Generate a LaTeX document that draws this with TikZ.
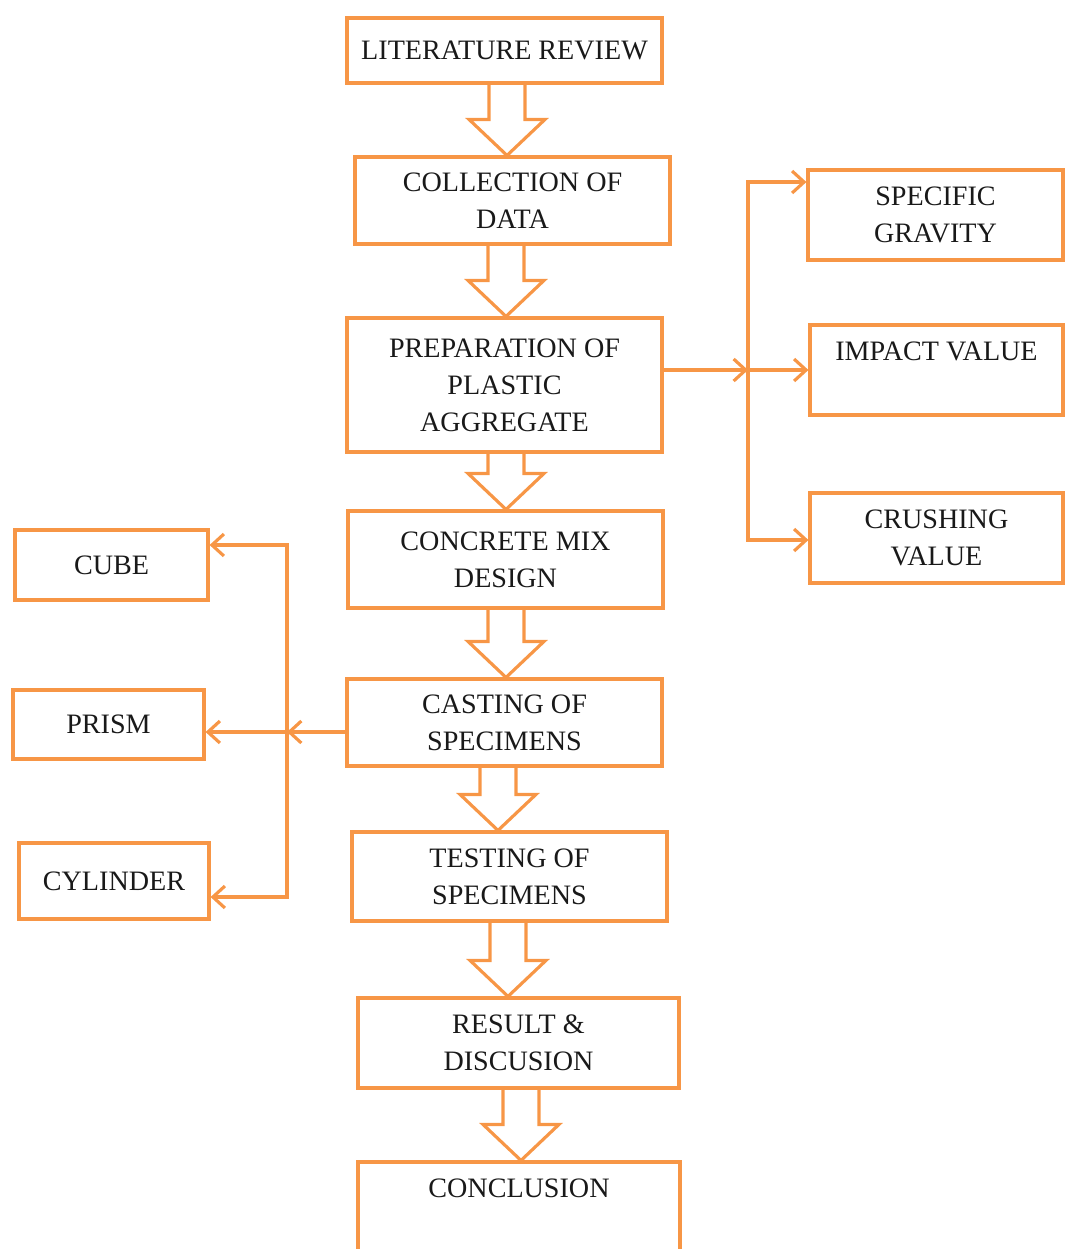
\documentclass[tikz,border=0pt]{standalone}
\usepackage{fontspec}
\setmainfont{Liberation Serif}
\usetikzlibrary{arrows.meta,calc}
\definecolor{boxorange}{RGB}{247,150,70}
\tikzset{
  box/.style={draw=boxorange, line width=0.9pt, rectangle, align=center, inner sep=1pt,
    text=black!90, font=\fontsize{8}{10.5}\selectfont},
  conn/.style={draw=boxorange, line width=0.9pt, -{Straight Barb[length=1.2mm,width=2.2mm]}},
  blockarr/.style={draw=boxorange, line width=0.9pt, line join=miter}
}
\begin{document}
\begin{tikzpicture}
\useasboundingbox (0,0) rectangle (10.66,-12.49);

% Main column
\node[box, minimum width=3.15cm, minimum height=0.65cm] (lit) at (5.045,-0.505) {LITERATURE REVIEW};
\node[box, minimum width=3.15cm, minimum height=0.87cm] (coll) at (5.125,-2.005) {COLLECTION OF\\DATA};
\node[box, minimum width=3.15cm, minimum height=1.34cm] (prep) at (5.045,-3.85) {PREPARATION OF\\PLASTIC\\AGGREGATE};
\node[box, minimum width=3.15cm, minimum height=0.97cm] (mix) at (5.055,-5.595) {CONCRETE MIX\\DESIGN};
\node[box, minimum width=3.15cm, minimum height=0.87cm] (cast) at (5.045,-7.225) {CASTING OF\\SPECIMENS};
\node[box, minimum width=3.15cm, minimum height=0.89cm] (test) at (5.095,-8.765) {TESTING OF\\SPECIMENS};
\node[box, minimum width=3.21cm, minimum height=0.90cm] (res) at (5.185,-10.43) {RESULT \&\\DISCUSION};
\node[box, minimum width=3.22cm, minimum height=0.90cm] (conc) at (5.19,-12.07) {CONCLUSION\\\mbox{}};

% Tests on plastic aggregate
\node[box, minimum width=2.55cm, minimum height=0.90cm] (sg) at (9.355,-2.15) {SPECIFIC\\GRAVITY};
\node[box, minimum width=2.53cm, minimum height=0.90cm] (imp) at (9.365,-3.70) {IMPACT VALUE\\\mbox{}};
\node[box, minimum width=2.53cm, minimum height=0.90cm] (crush) at (9.365,-5.38) {CRUSHING\\VALUE};

% Specimen types
\node[box, minimum width=1.93cm, minimum height=0.70cm] (cube) at (1.115,-5.65) {CUBE};
\node[box, minimum width=1.91cm, minimum height=0.69cm] (prism) at (1.085,-7.245) {PRISM};
\node[box, minimum width=1.90cm, minimum height=0.76cm] (cyl) at (1.14,-8.81) {CYLINDER};

% Hollow arrows down the main column
\foreach \from/\to/\ax in {lit/coll/5.07, coll/prep/5.06, prep/mix/5.06, mix/cast/5.06,
                           cast/test/4.98, test/res/5.08, res/conc/5.21}
{
  \draw[blockarr] (\ax-0.18,0 |- \from.south) -- ($(\ax-0.18,0 |- \to.north)+(0,0.36)$)
    -- ++(-0.2,0) -- (\ax,0 |- \to.north) -- ++(0.38,0.36) -- ++(-0.2,0)
    -- (\ax+0.18,0 |- \from.south);
}

% Branch to the right
\coordinate (rsplit) at (7.48,-3.70);
\coordinate (rtop) at (7.48,-1.82);
\coordinate (rbot) at (7.48,-5.40);
\draw[conn] (prep.east |- rsplit) -- (rsplit);
\draw[conn] (rsplit) -- (rsplit -| imp.west);
\draw[conn] (rsplit) -- (rtop) -- (rtop -| sg.west);
\draw[conn] (rsplit) -- (rbot) -- (rbot -| crush.west);

% Branch to the left
\coordinate (lsplit) at (2.87,-7.32);
\coordinate (ltop) at (2.87,-5.45);
\coordinate (lbot) at (2.87,-8.97);
\draw[conn] (cast.west |- lsplit) -- (lsplit);
\draw[conn] (lsplit) -- (lsplit -| prism.east);
\draw[conn] (lsplit) -- (ltop) -- (ltop -| cube.east);
\draw[conn] (lsplit) -- (lbot) -- (lbot -| cyl.east);
\end{tikzpicture}
\end{document}
